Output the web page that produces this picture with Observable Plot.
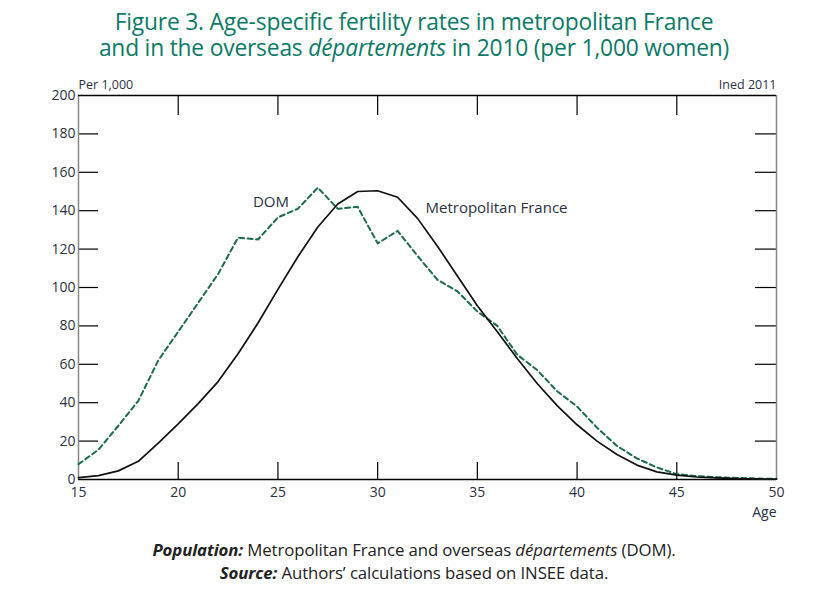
<!DOCTYPE html>
<html>
<head>
<meta charset="utf-8">
<script src="https://cdn.jsdelivr.net/npm/d3@7"></script>
<script src="https://cdn.jsdelivr.net/npm/@observablehq/plot@0.6"></script>
<style>
  body { margin: 0; background: #fff; font-family: "Open Sans", sans-serif; }
  #wrap { width: 828px; }
  #title { height: 70px; box-sizing: border-box; padding-top: 9px; text-align: center; color: #0b7a66; font-size: 22.8px; line-height: 26px; letter-spacing: -0.2px; }
  #caption { text-align: center; font-size: 16.8px; line-height: 23px; color: #222; margin-top: -2px; letter-spacing: -0.1px; }
  svg { display: block; }
  g[aria-label="y-axis tick label"], g[aria-label="x-axis tick label"] { font-size: 14px; }
</style>
</head>
<body>
<div id="wrap">
  <div id="title">Figure 3. Age-specific fertility rates in metropolitan France<br>and in the overseas <i>départements</i> in 2010 (per 1,000 women)</div>
  <div id="chart"></div>
  <div id="caption"><b><i>Population:</i></b> Metropolitan France and overseas <i>départements</i> (DOM).<br><b><i>Source:</i></b> Authors’ calculations based on INSEE data.</div>
</div>
<script>
const ages = [15,16,17,18,19,20,21,22,23,24,25,26,27,28,29,30,31,32,33,34,35,36,37,38,39,40,41,42,43,44,45,46,47,48,49,50];
const metro = [1,2,4.5,9.5,19,29,39.5,51,65.5,81.5,99,116,131.5,143.5,150,150.4,147,136,121.5,106,90.5,77,63,50,38.5,28.5,20,13,7.5,4,2.3,1.3,0.8,0.5,0.3,0.2];
const dom = [8,15.5,28,41,62,77,92,107,126,125,136.5,141,152,141,142,123,129.5,116.5,104,98,87.5,80,65,57,46,38,27,17.5,11,6.3,2.8,1.8,1.2,0.8,0.5,0.3];
const xTicks = [15,20,25,30,35,40,45,50];
const yTicks = [0,20,40,60,80,100,120,140,160,180,200];
const innerX = [20,25,30,35,40,45];
const innerY = [20,40,60,80,100,120,140,160,180];
const domLabel = [{age: 24.65, value: 144.6, text: "DOM"}];
const metroLabel = [{age: 32.4, value: 141.5, text: "Metropolitan France"}];

const metroData = ages.map((a, i) => ({age: a, value: metro[i]}));
const domData = ages.map((a, i) => ({age: a, value: dom[i]}));

const W = 828, H = 470, mT = 25, mB = 61, mL = 78, mR = 52;
const innerW = W - mL - mR, innerH = H - mT - mB;
const ink = "#2b3140";

const chart = Plot.plot({
  width: W, height: H,
  marginTop: mT, marginBottom: mB, marginLeft: mL, marginRight: mR,
  style: {fontFamily: "Open Sans, sans-serif", fontSize: "14px", color: ink, background: "#fff"},
  x: {domain: [15, 50]},
  y: {domain: [0, 200]},
  marks: [
    // inward ticks
    Plot.tickY(innerY, {y: d => d, insetRight: innerW - 20, stroke: "#000", strokeWidth: 1.2}),
    Plot.tickY(innerY, {y: d => d, insetLeft: innerW - 21, stroke: "#000", strokeWidth: 1.2}),
    Plot.tickX(innerX, {x: d => d, insetTop: innerH - 17, stroke: "#000", strokeWidth: 1.2}),
    Plot.tickX(innerX, {x: d => d, insetBottom: innerH - 20, stroke: "#000", strokeWidth: 1.2}),
    // frame
    Plot.ruleX([15, 50], {stroke: "#888", strokeWidth: 1.5}),
    Plot.ruleY([0, 200], {stroke: "#000", strokeWidth: 1.3}),
    // axes labels
    Plot.axisY(yTicks, {tickSize: 0, tickPadding: 3, label: null, fill: ink, fontSize: 14}),
    Plot.axisX(xTicks, {tickSize: 0, tickPadding: 8, label: null, fill: ink, fontSize: 14}),
    // lines
    Plot.line(domData, {x: "age", y: "value", stroke: "#1c6b4e", strokeWidth: 2, strokeDasharray: "5,3.5"}),
    Plot.line(metroData, {x: "age", y: "value", stroke: "#111", strokeWidth: 1.7}),
    // labels
    Plot.text(domLabel, {x: "age", y: "value", text: "text", textAnchor: "middle", fill: ink, fontSize: 15}),
    Plot.text(metroLabel, {x: "age", y: "value", text: "text", textAnchor: "start", fill: ink, fontSize: 15}),
    Plot.text(["Per 1,000"], {frameAnchor: "top-left", dy: -15, text: d => d, fill: ink, fontSize: 12.5}),
    Plot.text(["Ined 2011"], {frameAnchor: "top-right", dy: -15, text: d => d, fill: ink, fontSize: 12.5}),
    Plot.text(["Age"], {frameAnchor: "bottom-right", dy: 37, text: d => d, fill: ink, fontSize: 14})
  ]
});
document.getElementById("chart").appendChild(chart);
</script>
</body>
</html>
